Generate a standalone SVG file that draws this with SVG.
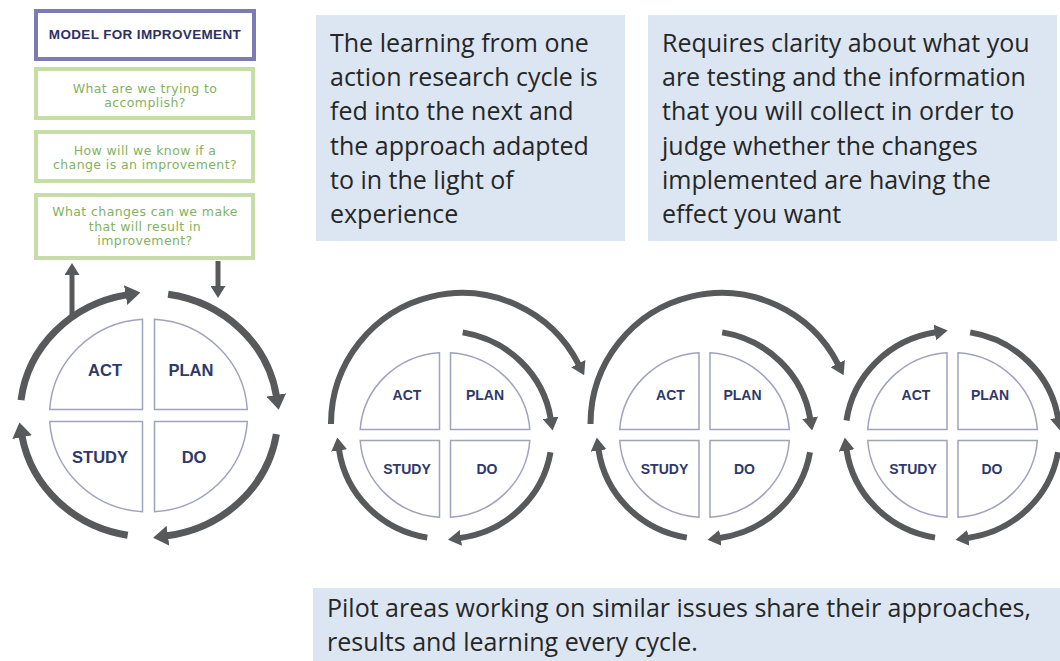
<svg xmlns="http://www.w3.org/2000/svg" width="1060" height="661" viewBox="0 0 1060 661">
<defs>
<style>
.note{fill:#dce6f2}
.nt{font-family:"Open Sans","Liberation Sans",sans-serif;font-size:25px;fill:#262626}
.q{fill:#fff;stroke:#a0a3bc;stroke-width:1.5}
.ql{font-family:"Liberation Sans",Arial,sans-serif;font-weight:bold;fill:#2f386b;text-anchor:middle}
.ring{fill:none;stroke:#58595b;stroke-width:6}
.ring1{fill:none;stroke:#58595b;stroke-width:7}
.stem{fill:none;stroke:#58595b;stroke-width:5}
.gbox{fill:#fff;stroke:#c6dea6;stroke-width:4}
.gt{font-family:"DejaVu Sans","Open Sans",sans-serif;font-size:12.5px;fill:#7fb35e;text-anchor:middle;letter-spacing:0.4px}
</style>
<marker id="ah" markerUnits="userSpaceOnUse" viewBox="0 0 13 16" refX="1" refY="8" markerWidth="13" markerHeight="16" orient="auto"><path d="M0,0 L13,8 L0,16 Z" fill="#58595b"/></marker>
<marker id="ahL" markerUnits="userSpaceOnUse" viewBox="0 0 15 20" refX="1" refY="10" markerWidth="15" markerHeight="20" orient="auto"><path d="M0,0 L15,10 L0,20 Z" fill="#58595b"/></marker>
<marker id="ahS" markerUnits="userSpaceOnUse" viewBox="0 0 12 15" refX="1" refY="7.5" markerWidth="12" markerHeight="15" orient="auto"><path d="M0,0 L12,7.5 L0,15 Z" fill="#58595b"/></marker>
</defs>
<rect width="1060" height="661" fill="#fff"/>

<g id="model-title">
<rect x="36" y="11" width="218" height="48" fill="#fff" stroke="#7d7ab6" stroke-width="4"/>
<text x="145" y="39" font-family="Liberation Sans, Arial, sans-serif" font-weight="bold" font-size="13.5" letter-spacing="0.35" fill="#2d3262" text-anchor="middle">MODEL FOR IMPROVEMENT</text>
</g>
<g id="q-accomplish">
<rect class="gbox" x="36" y="69" width="217" height="49"/>
<text class="gt" x="145" y="92.5">What are we trying to</text>
<text class="gt" x="145" y="107.1">accomplish?</text>
</g>
<g id="q-know">
<rect class="gbox" x="36" y="132" width="217" height="49"/>
<text class="gt" x="145" y="154.5">How will we know if a</text>
<text class="gt" x="145" y="169.1">change is an improvement?</text>
</g>
<g id="q-changes">
<rect class="gbox" x="36" y="195" width="217" height="63"/>
<text class="gt" x="145" y="216">What changes can we make</text>
<text class="gt" x="145" y="230.6">that will result in</text>
<text class="gt" x="145" y="245.2">improvement?</text>
</g>

<g id="note-learning">
<rect class="note" x="316" y="15" width="309" height="226"/>
<text class="nt" x="330" y="52">The learning from one</text>
<text class="nt" x="330" y="86.2">action research cycle is</text>
<text class="nt" x="330" y="120.4">fed into the next and</text>
<text class="nt" x="330" y="154.6">the approach adapted</text>
<text class="nt" x="330" y="188.8">to in the light of</text>
<text class="nt" x="330" y="223">experience</text>
</g>
<g id="note-clarity">
<rect class="note" x="648" y="15" width="409" height="226"/>
<text class="nt" x="662" y="52">Requires clarity about what you</text>
<text class="nt" x="662" y="86.2">are testing and the information</text>
<text class="nt" x="662" y="120.4">that you will collect in order to</text>
<text class="nt" x="662" y="154.6">judge whether the changes</text>
<text class="nt" x="662" y="188.8">implemented are having the</text>
<text class="nt" x="662" y="223">effect you want</text>
</g>
<g id="note-pilot">
<rect class="note" x="313" y="588" width="747" height="73"/>
<text class="nt" x="327" y="617">Pilot areas working on similar issues share their approaches,</text>
<text class="nt" x="327" y="651">results and learning every cycle.</text>
</g>

<g id="cycle-1" transform="translate(148.5,415.5)">
<path class="q" d="M-6,-6 H-98.8 A99,96.5 0 0 1 -6,-96.3 Z"/>
<path class="q" d="M6,-6 V-96.3 A99,96.5 0 0 1 98.8,-6 Z"/>
<path class="q" d="M-6,6 V96.3 A99,96.5 0 0 1 -98.8,6 Z"/>
<path class="q" d="M6,6 H98.8 A99,96.5 0 0 1 6,96.3 Z"/>
<text class="ql" font-size="16.5" x="-43.5" y="-39.5">ACT</text>
<text class="ql" font-size="16.5" x="42.5" y="-39.5">PLAN</text>
<text class="ql" font-size="16.5" x="-48.5" y="47.5">STUDY</text>
<text class="ql" font-size="16.5" x="45.5" y="47.5">DO</text>
</g>
<g id="cycle-2" transform="translate(445,435)">
<path class="q" d="M-5.5,-5.5 H-84.8 A85,82.5 0 0 1 -5.5,-82.3 Z"/>
<path class="q" d="M5.5,-5.5 V-82.3 A85,82.5 0 0 1 84.8,-5.5 Z"/>
<path class="q" d="M-5.5,5.5 V82.3 A85,82.5 0 0 1 -84.8,5.5 Z"/>
<path class="q" d="M5.5,5.5 H84.8 A85,82.5 0 0 1 5.5,82.3 Z"/>
<text class="ql" font-size="14" x="-38" y="-35">ACT</text>
<text class="ql" font-size="14" x="40" y="-35">PLAN</text>
<text class="ql" font-size="14" x="-38" y="39">STUDY</text>
<text class="ql" font-size="14" x="42" y="39">DO</text>
</g>
<g id="cycle-3" transform="translate(704.5,435)">
<path class="q" d="M-5.5,-5.5 H-84.8 A85,82.5 0 0 1 -5.5,-82.3 Z"/>
<path class="q" d="M5.5,-5.5 V-82.3 A85,82.5 0 0 1 84.8,-5.5 Z"/>
<path class="q" d="M-5.5,5.5 V82.3 A85,82.5 0 0 1 -84.8,5.5 Z"/>
<path class="q" d="M5.5,5.5 H84.8 A85,82.5 0 0 1 5.5,82.3 Z"/>
<text class="ql" font-size="14" x="-34" y="-35">ACT</text>
<text class="ql" font-size="14" x="38" y="-35">PLAN</text>
<text class="ql" font-size="14" x="-40" y="39">STUDY</text>
<text class="ql" font-size="14" x="40" y="39">DO</text>
</g>
<g id="cycle-4" transform="translate(952.5,435)">
<path class="q" d="M-5.5,-5.5 H-84.8 A85,82.5 0 0 1 -5.5,-82.3 Z"/>
<path class="q" d="M5.5,-5.5 V-82.3 A85,82.5 0 0 1 84.8,-5.5 Z"/>
<path class="q" d="M-5.5,5.5 V82.3 A85,82.5 0 0 1 -84.8,5.5 Z"/>
<path class="q" d="M5.5,5.5 H84.8 A85,82.5 0 0 1 5.5,82.3 Z"/>
<text class="ql" font-size="14" x="-36.5" y="-35">ACT</text>
<text class="ql" font-size="14" x="37.5" y="-35">PLAN</text>
<text class="ql" font-size="14" x="-39.5" y="39">STUDY</text>
<text class="ql" font-size="14" x="39.5" y="39">DO</text>
</g>

<g id="connectors">
<path class="stem" d="M72,317 V274" marker-end="url(#ahS)"/>
<path class="stem" d="M218,261 V287" marker-end="url(#ahS)"/>
<path class="ring1" d="M21,400.1 A129,122 0 0 1 126.6,294.9" marker-end="url(#ahL)"/>
<path class="ring1" d="M168.1,294.3 A129,122 0 0 1 276.4,395.9" marker-end="url(#ahL)"/>
<path class="ring1" d="M276.4,434.1 A129,122 0 0 1 167,535.8" marker-end="url(#ahL)"/>
<path class="ring1" d="M127.7,535.3 A129,122 0 0 1 22,436.2" marker-end="url(#ahL)"/>

<path class="ring" d="M331,424 A131,131 0 0 1 578.7,364.5" marker-end="url(#ah)"/>
<path class="ring" d="M462.7,332.4 A107,104 0 0 1 550.7,418.7" marker-end="url(#ah)"/>
<path class="ring" d="M550.5,452.2 A107,104 0 0 1 459.9,538" marker-end="url(#ah)"/>
<path class="ring" d="M427.3,537.6 A107,104 0 0 1 339,449.5" marker-end="url(#ah)"/>

<path class="ring" d="M590.5,424 A131,131 0 0 1 838.2,364.5" marker-end="url(#ah)"/>
<path class="ring" d="M722.2,332.4 A107,104 0 0 1 810.2,418.7" marker-end="url(#ah)"/>
<path class="ring" d="M810,452.2 A107,104 0 0 1 719.4,538" marker-end="url(#ah)"/>
<path class="ring" d="M686.8,537.6 A107,104 0 0 1 598.5,449.5" marker-end="url(#ah)"/>

<path class="ring" d="M846.5,420.5 A107,104 0 0 1 935.8,332.3" marker-end="url(#ah)"/>
<path class="ring" d="M970.2,332.4 A107,104 0 0 1 1058.2,418.7" marker-end="url(#ah)"/>
<path class="ring" d="M1058,452.2 A107,104 0 0 1 967.4,538" marker-end="url(#ah)"/>
<path class="ring" d="M935,537.6 A107,104 0 0 1 846.5,449.5" marker-end="url(#ah)"/>
</g>
</svg>
